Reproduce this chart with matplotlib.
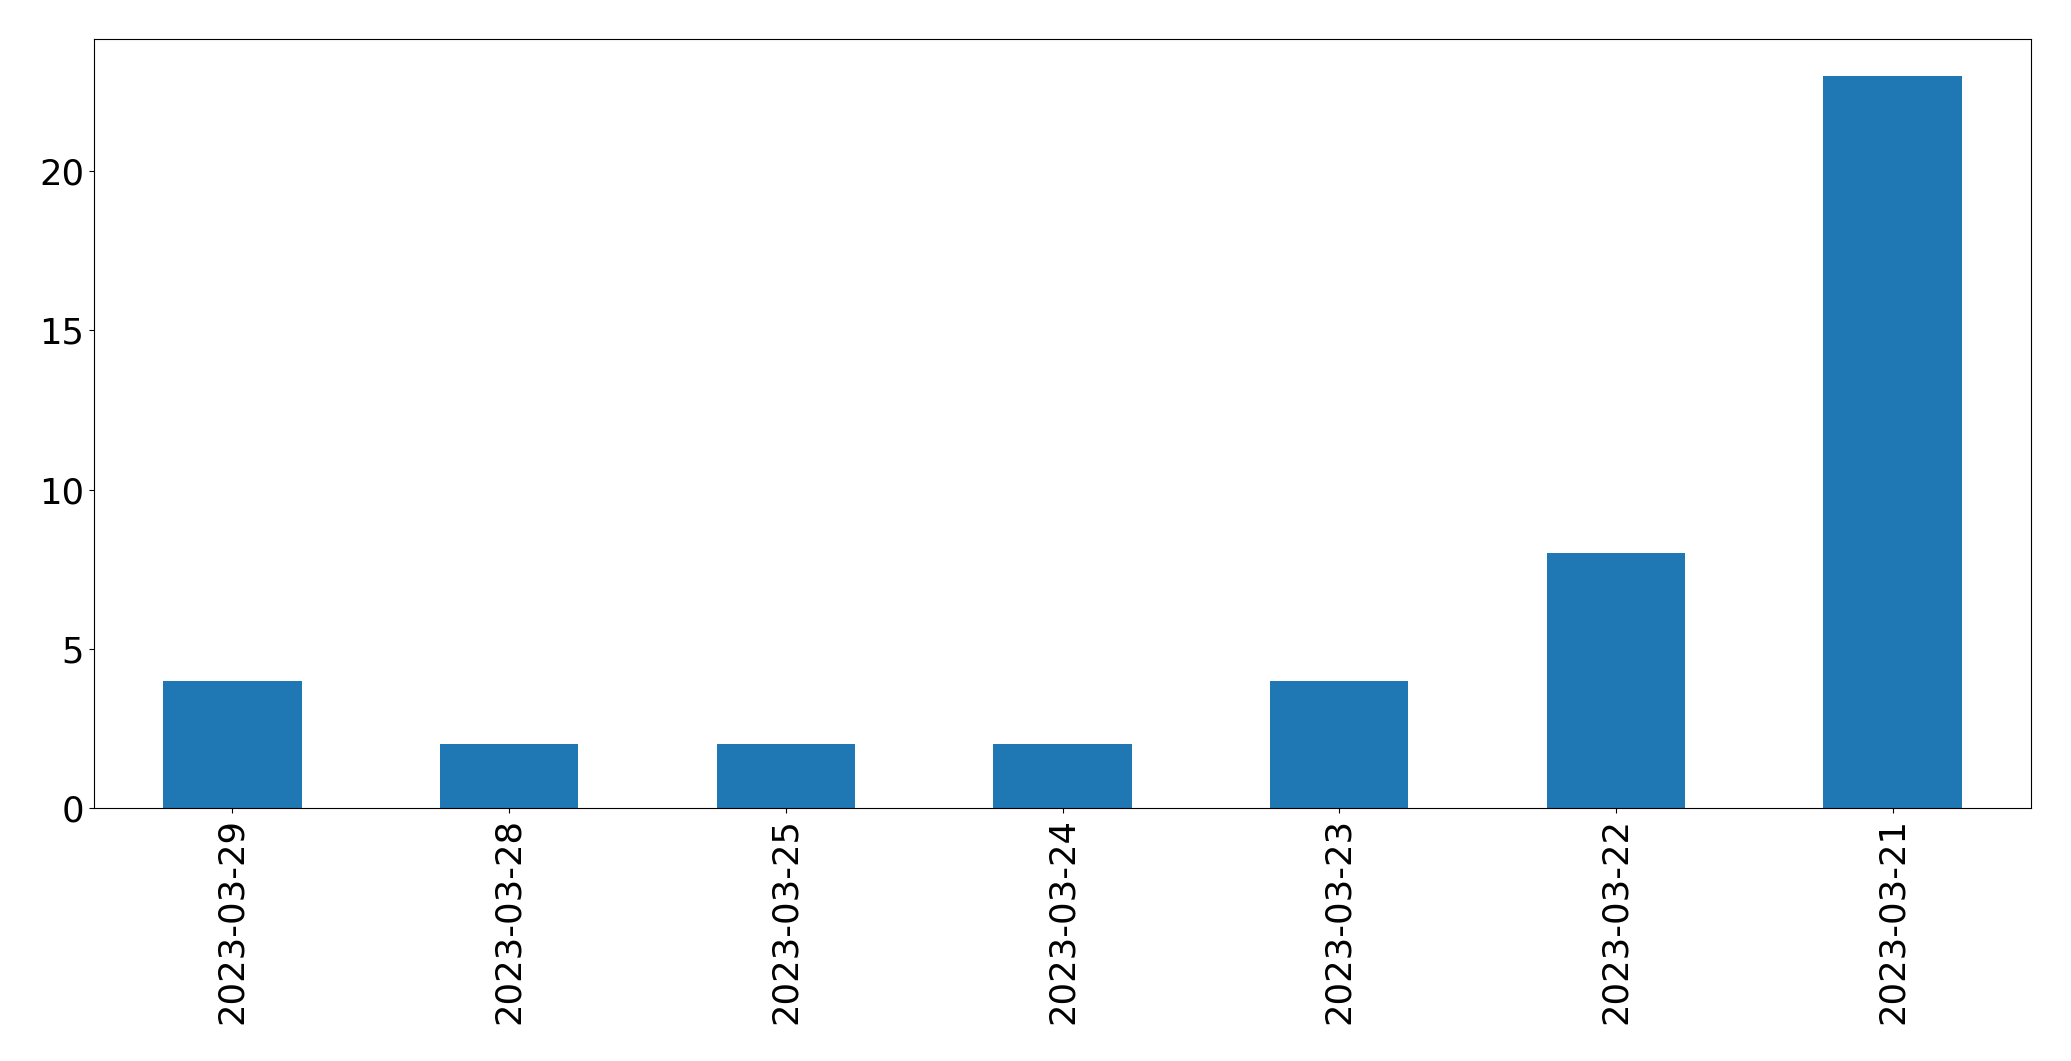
import matplotlib
matplotlib.use("Agg")
import matplotlib.pyplot as plt

dates = ["2023-03-29", "2023-03-28", "2023-03-25", "2023-03-24", "2023-03-23", "2023-03-22", "2023-03-21"]
counts = [4, 2, 2, 2, 4, 8, 23]

fig = plt.figure(figsize=(20.71, 10.61), dpi=100)
ax = fig.add_axes([94 / 2071, 1 - 808 / 1061, (2031 - 94) / 2071, (808 - 39) / 1061])
x = list(range(len(dates)))
ax.bar(x, counts, width=0.5, color="#1f77b4")
ax.set_xlim(-0.5, len(dates) - 0.5)
ax.set_ylim(0, max(counts) * 1.05)
ax.set_xticks(x)
ax.set_xticklabels(dates, rotation=90)
ax.set_yticks([0, 5, 10, 15, 20])
ax.tick_params(labelsize=25.5)
fig.savefig("out.png", dpi=100)
